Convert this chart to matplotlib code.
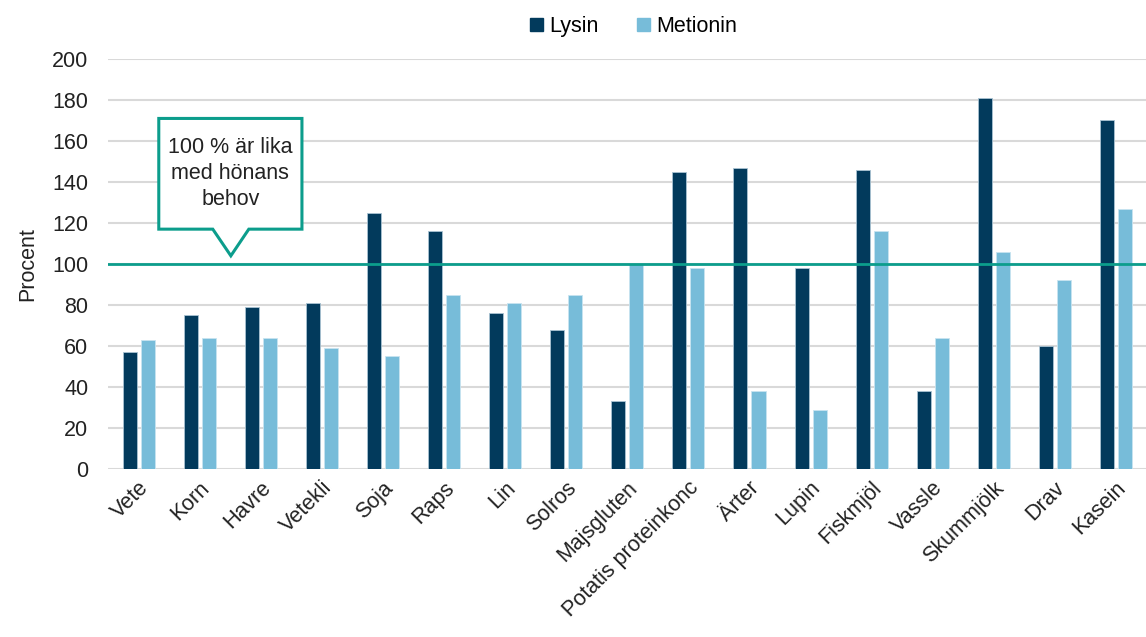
import numpy as np
import matplotlib.pyplot as plt
from matplotlib.patches import Polygon, Patch

plt.rcParams['font.family'] = ['Liberation Sans', 'DejaVu Sans']

# data
kategorier = ['Vete', 'Korn', 'Havre', 'Vetekli', 'Soja', 'Raps', 'Lin', 'Solros',
              'Majsgluten', 'Potatis proteinkonc', 'Ärter', 'Lupin', 'Fiskmjöl',
              'Vassle', 'Skummjölk', 'Drav', 'Kasein']
lysin = [57, 75, 79, 81, 125, 116, 76, 68, 33, 145, 147, 98, 146, 38, 181, 60, 170]
metionin = [63, 64, 64, 59, 55, 85, 81, 85, 100, 98, 38, 29, 116, 64, 106, 92, 127]
behov = 100

mork = '#023a5c'
ljus = '#77bcd9'
teal = '#0c9d8c'
fs = 15.5

fig = plt.figure(figsize=(11.46, 6.37), dpi=100)
ax = fig.add_axes([0.094, 0.2637, 0.906, 0.6437])

x = np.arange(len(kategorier))
w = 0.23
ax.bar(x - 0.14, lysin, w, color=mork, edgecolor='#a9c3d3', linewidth=0.6, zorder=3)
ax.bar(x + 0.155, metionin, w, color=ljus, edgecolor='#c8e4f0', linewidth=0.6, zorder=3)

ax.set_xlim(-0.5, len(kategorier) - 0.5)
ax.set_ylim(0, 200)
ax.set_yticks(range(0, 201, 20))
ax.yaxis.grid(True, color='#d9d9d9', linewidth=1.5, zorder=0)
ax.set_axisbelow(True)
ax.axhline(0, color='#d9d9d9', linewidth=2, zorder=2)
ax.axhline(behov, color=teal, linewidth=2, zorder=4)
for s in ax.spines.values():
    s.set_visible(False)
ax.tick_params(axis='both', length=0, labelsize=fs, colors='#222222')
ax.tick_params(axis='y', pad=14)
ax.tick_params(axis='x', pad=6)
ax.set_xticks(x)
ax.set_xticklabels(kategorier, rotation=45, ha='right', rotation_mode='anchor')
ax.set_ylabel('Procent', fontsize=fs, color='#222222', labelpad=10)

# pratbubbla
bx0, bx1 = 0.336, 2.68
by0, by1 = 117, 171
callout = Polygon([(bx0, by1), (bx1, by1), (bx1, by0), (1.81, by0), (1.516, 104),
                   (1.22, by0), (bx0, by0)], closed=True, facecolor='white',
                  edgecolor=teal, linewidth=2.2, zorder=5)
ax.add_patch(callout)
ax.text((bx0 + bx1) / 2, (by0 + by1) / 2, '100 % är lika\nmed hönans\nbehov',
        ha='center', va='center', fontsize=fs, color='#222222', linespacing=1.3, zorder=6)

handles = [Patch(color=mork, label='Lysin'), Patch(color=ljus, label='Metionin')]
fig.legend(handles=handles, loc='upper center', bbox_to_anchor=(0.553, 1.005), ncol=2,
           frameon=False, fontsize=fs, handlelength=0.6, handleheight=0.6,
           handletextpad=0.3, columnspacing=1.8)

fig.savefig('out.png', dpi=100)
